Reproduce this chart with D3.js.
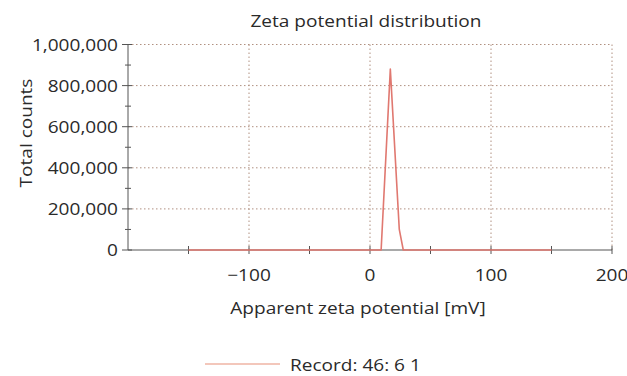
<!DOCTYPE html>
<html><head><meta charset="utf-8">
<script src="https://cdn.jsdelivr.net/npm/d3@7"></script>
<style>html,body{margin:0;padding:0;background:#fff;}</style>
</head><body>
<svg id="c" width="627" height="376"></svg>
<script>
const potential = [-150, 9.2, 16.8, 24.2, 27.5, 150];
const counts    = [0, 0, 880000, 100000, 0, 0];
const xMajorTicks = [-100, 0, 100, 200];
const xMinorTicks = [-150, -50, 50, 150];
const yTicks = [0, 200000, 400000, 600000, 800000, 1000000];
const yMinorTicks = [100000, 300000, 500000, 700000, 900000];
const title = "Zeta potential distribution";
const xLabel = "Apparent zeta potential [mV]";
const yLabel = "Total counts";
const seriesName = "Record: 46: 6 1";

const FONT = "'Open Sans', sans-serif";
const FS = 17;
const STRETCH = 1.12;
const svg = d3.select("#c");
const x = d3.scaleLinear().domain([-200, 200]).range([128, 612]);
const y = d3.scaleLinear().domain([0, 1000000]).range([250, 44.5]);
const fmt = d3.format(",");
const gridCol = "#b09080";
const axisCol = "#555";
const red = "#e07870";
const textCol = "#2a2a2a";

// grid
svg.append("g").selectAll("line").data(yTicks.filter(d => d > 0)).join("line")
  .attr("x1", x(-200)).attr("x2", x(200)).attr("y1", d => y(d)).attr("y2", d => y(d))
  .attr("stroke", gridCol).attr("stroke-width", 1).attr("stroke-dasharray", "1.5,2.5");
svg.append("g").selectAll("line").data(xMajorTicks).join("line")
  .attr("x1", d => x(d)).attr("x2", d => x(d)).attr("y1", y(0)).attr("y2", y(1000000))
  .attr("stroke", gridCol).attr("stroke-width", 1).attr("stroke-dasharray", "1.5,2.5");

// axes
const xAxis = svg.append("g").attr("transform", `translate(0,${y(0)})`)
  .call(d3.axisBottom(x).tickValues(xMajorTicks.concat(xMinorTicks)).tickSize(0).tickFormat(""));
xAxis.select(".domain").attr("stroke", axisCol).attr("d", `M${x(-200)},0H${x(200)}`);
const yAxis = svg.append("g").attr("transform", `translate(${x(-200)},0)`)
  .call(d3.axisLeft(y).tickValues(yTicks).tickSize(0).tickFormat(""));
yAxis.select(".domain").attr("stroke", axisCol).attr("d", `M0,${y(0)}V${y(1000000)}`);

// ticks crossing axes
svg.append("g").selectAll("line").data(xMajorTicks.concat(xMinorTicks)).join("line")
  .attr("x1", d => x(d)).attr("x2", d => x(d)).attr("y1", y(0) - 4).attr("y2", y(0) + 4)
  .attr("stroke", axisCol).attr("stroke-width", 1);
svg.append("g").selectAll("line").data(yTicks).join("line")
  .attr("x1", x(-200) - 6).attr("x2", x(-200) + 4).attr("y1", d => y(d)).attr("y2", d => y(d))
  .attr("stroke", axisCol).attr("stroke-width", 1);
svg.append("g").selectAll("line").data(yMinorTicks).join("line")
  .attr("x1", x(-200) - 3).attr("x2", x(-200) + 3).attr("y1", d => y(d)).attr("y2", d => y(d))
  .attr("stroke", axisCol).attr("stroke-width", 1);

// labels
function stretch(sel) {
  sel.each(function() {
    const L = this.getComputedTextLength();
    d3.select(this).attr("textLength", L * STRETCH).attr("lengthAdjust", "spacingAndGlyphs");
  });
}
svg.append("g").selectAll("text").data(yTicks).join("text")
  .attr("x", 118).attr("y", d => y(d)).attr("dy", "0.36em").attr("text-anchor", "end")
  .attr("font-family", FONT).attr("font-size", FS).attr("fill", textCol)
  .text(d => fmt(d)).call(stretch);
svg.append("g").selectAll("text").data(xMajorTicks).join("text")
  .attr("x", d => x(d)).attr("y", 281).attr("text-anchor", "middle")
  .attr("font-family", FONT).attr("font-size", FS).attr("fill", textCol)
  .text(d => d < 0 ? "\u2212" + Math.abs(d) : d).call(stretch);

svg.append("text").attr("x", 366).attr("y", 27).attr("text-anchor", "middle")
  .attr("font-family", FONT).attr("font-size", FS).attr("fill", textCol).text(title).call(stretch);
svg.append("text").attr("x", 358).attr("y", 314).attr("text-anchor", "middle")
  .attr("font-family", FONT).attr("font-size", FS).attr("fill", textCol).text(xLabel).call(stretch);
svg.append("text").attr("transform", "translate(32,133) rotate(-90)").attr("text-anchor", "middle")
  .attr("font-family", FONT).attr("font-size", FS).attr("fill", textCol).text(yLabel).call(stretch);

// series
const line = d3.line().x((d, i) => x(potential[i])).y(d => y(d));
svg.append("path").datum(counts).attr("d", line)
  .attr("fill", "none").attr("stroke", red).attr("stroke-width", 1.6).attr("stroke-linejoin", "round");

// legend
svg.append("line").attr("x1", 205).attr("x2", 280).attr("y1", 364).attr("y2", 364)
  .attr("stroke", "#e89078").attr("stroke-width", 1.2);
svg.append("text").attr("x", 290).attr("y", 371)
  .attr("font-family", FONT).attr("font-size", FS).attr("fill", textCol).text(seriesName).call(stretch);
</script>
</body></html>
